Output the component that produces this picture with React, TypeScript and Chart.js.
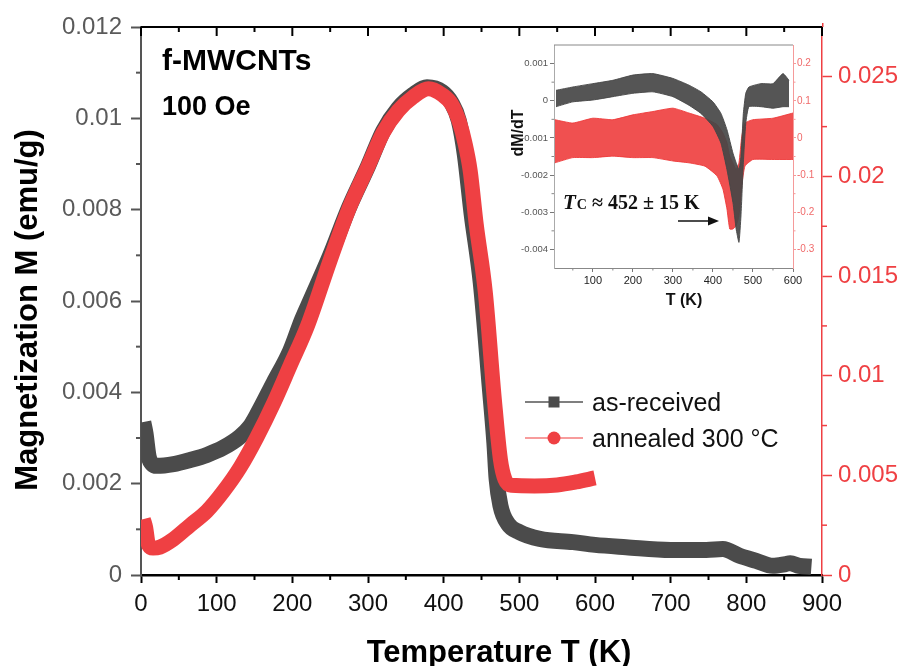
import React, { useEffect, useRef } from 'react';
import { Chart, registerables } from 'chart.js';
Chart.register(...registerables);

const FONT = "'Liberation Sans', Arial, Helvetica, sans-serif";
const SERIF = "'Liberation Serif', 'Times New Roman', serif";
const RED = '#ef4043';
const DARK = '#4b4b4b';

// ---------- main chart data ----------
const seriesLabels = ['as-received', 'annealed 300 °C'];
const asReceivedT = [3, 6, 10, 15, 21, 43, 65, 87, 109, 131, 144, 153, 175, 197, 213, 225, 250, 275, 300, 320, 340, 360, 378, 398, 410, 420, 428, 437, 449, 461, 467, 470, 475, 485, 500, 527, 571, 600, 641, 700, 747, 769, 791, 813, 835, 852, 858, 870, 886];
const asReceivedM = [0.00335, 0.0031, 0.0026, 0.00243, 0.00239, 0.00243, 0.00252, 0.00263, 0.00279, 0.00303, 0.00325, 0.0035, 0.0042, 0.0049, 0.0056, 0.00605, 0.007, 0.00805, 0.00895, 0.00972, 0.01022, 0.01052, 0.01068, 0.01058, 0.01035, 0.00995, 0.0092, 0.0079, 0.0064, 0.0041, 0.0029, 0.0021, 0.00152, 0.00112, 0.00094, 0.00079, 0.00072, 0.00066, 0.00061, 0.00055, 0.00055, 0.00057, 0.00042, 0.00031, 0.0002, 0.00024, 0.00026, 0.0002, 0.00018];
const annealedT = [3, 6, 10, 16, 25, 43, 65, 87, 109, 131, 153, 175, 197, 220, 250, 275, 300, 320, 340, 360, 380, 398, 411, 421, 428, 435, 443, 455, 467, 475, 481, 490, 520, 550, 575, 600];
const annealedM = [0.0028, 0.0024, 0.0015, 0.00135, 0.0014, 0.0018, 0.0025, 0.0032, 0.0042, 0.0054, 0.0069, 0.0086, 0.0105, 0.0125, 0.0158, 0.0184, 0.0205, 0.0222, 0.0233, 0.024, 0.0244, 0.0241, 0.0236, 0.0227, 0.0217, 0.0203, 0.0176, 0.0142, 0.0088, 0.0058, 0.0048, 0.0045, 0.00447, 0.00452, 0.00467, 0.00487];

const xTickValues = [0, 100, 200, 300, 400, 500, 600, 700, 800, 900];
const xTickLabels = ['0', '100', '200', '300', '400', '500', '600', '700', '800', '900'];
const xMinorTicks = [50, 150, 250, 350, 450, 550, 650, 750, 850];
const yTickValues = [0, 0.002, 0.004, 0.006, 0.008, 0.01, 0.012];
const yTickLabels = ['0', '0.002', '0.004', '0.006', '0.008', '0.01', '0.012'];
const yMinorTicks = [0.001, 0.003, 0.005, 0.007, 0.009, 0.011];
const y2TickValues = [0, 0.005, 0.01, 0.015, 0.02, 0.025];
const y2TickLabels = ['0', '0.005', '0.01', '0.015', '0.02', '0.025'];
const y2MinorTicks = [0.0025, 0.0075, 0.0125, 0.0175, 0.0225];

const sampleText = 'f-MWCNTs';
const fieldText = '100 Oe';
const xTitle = 'Temperature T (K)';
const yTitle = 'Magnetization M (emu/g)';

// ---------- inset (dM/dT) data: envelopes of the noisy bands ----------
const dBlackT = [8, 50, 100, 150, 200, 250, 300, 340, 370, 400, 420, 435, 450, 458, 465, 470, 476, 482, 490, 520, 550, 575, 590];
const dBlackHigh = [0.00028, 0.00037, 0.00046, 0.00055, 0.00069, 0.00073, 0.0006, 0.00042, 0.00024, -0.00003, -0.00034, -0.00078, -0.00141, -0.00167, -0.00185, -0.0015, -0.00034, 0.0002, 0.00037, 0.00046, 0.00046, 0.00073, 0.00055];
const dBlackLow = [-0.00016, -0.00003, 0.00002, 0.00011, 0.0002, 0.00024, 0.00011, -0.00012, -0.00034, -0.00069, -0.00114, -0.00185, -0.00274, -0.00345, -0.00381, -0.0031, -0.00167, -0.00061, -0.00016, -0.00016, -0.0002, -0.00016, -0.00016];
const dRedT = [5, 50, 100, 150, 200, 250, 300, 340, 380, 410, 425, 435, 442, 450, 458, 465, 472, 480, 500, 550, 600];
const dRedHigh = [0.049, 0.04, 0.053, 0.049, 0.062, 0.071, 0.08, 0.067, 0.053, 0.036, 0.013, -0.013, -0.049, -0.067, -0.085, -0.067, 0.004, 0.04, 0.049, 0.053, 0.067];
const dRedLow = [-0.067, -0.053, -0.053, -0.049, -0.053, -0.053, -0.062, -0.067, -0.076, -0.102, -0.138, -0.191, -0.245, -0.245, -0.236, -0.209, -0.129, -0.076, -0.058, -0.058, -0.058];

const insetXTicks = [100, 200, 300, 400, 500, 600];
const insetXLabels = ['100', '200', '300', '400', '500', '600'];
const insetXMinor = [50, 150, 250, 350, 450, 550];
const insetYTicks = [0.001, 0, -0.001, -0.002, -0.003, -0.004];
const insetYLabels = ['0.001', '0', '-0.001', '-0.002', '-0.003', '-0.004'];
const insetYMinor = [0.0005, -0.0005, -0.0015, -0.0025, -0.0035];
const insetY2Ticks = [0.2, 0.1, 0, -0.1, -0.2, -0.3];
const insetY2Labels = ['0.2', '0.1', '0', '-0.1', '-0.2', '-0.3'];
const insetY2Minor = [0.15, 0.05, -0.05, -0.15, -0.25];
const insetXTitle = 'T (K)';
const insetYTitle = 'dM/dT';
const tcSymbol = 'T';
const tcSub = 'C';
const tcValue = ' ≈ 452 ± 15 K';

const pts = (xs: number[], ys: number[]) => xs.map((x, i) => ({ x, y: ys[i] }));

function line(ctx: CanvasRenderingContext2D, x1: number, y1: number, x2: number, y2: number) {
  ctx.beginPath();
  ctx.moveTo(x1, y1);
  ctx.lineTo(x2, y2);
  ctx.stroke();
}

const mainDecor = {
  id: 'mainDecor',
  afterDraw(chart: any) {
    const { ctx, chartArea: a, scales } = chart;
    const sx = scales.x, sy = scales.y, sy2 = scales.y2;
    ctx.save();
    // top frame with inward ticks
    ctx.strokeStyle = '#000';
    ctx.lineWidth = 2;
    line(ctx, a.left, a.top, a.right, a.top);
    xTickValues.forEach((v) => { const p = sx.getPixelForValue(v); line(ctx, p, a.top, p, a.top + 9); });
    xMinorTicks.forEach((v) => { const p = sx.getPixelForValue(v); line(ctx, p, a.top, p, a.top + 5); });
    // bottom minor ticks
    xMinorTicks.forEach((v) => { const p = sx.getPixelForValue(v); line(ctx, p, a.bottom, p, a.bottom + 5); });
    // left minor
    ctx.strokeStyle = '#555';
    yMinorTicks.forEach((v) => { const p = sy.getPixelForValue(v); line(ctx, a.left, p, a.left - 5, p); });
    // right minor + extension of the red axis above the frame
    ctx.strokeStyle = RED;
    ctx.lineWidth = 1.5;
    y2MinorTicks.forEach((v) => { const p = sy2.getPixelForValue(v); line(ctx, a.right, p, a.right + 5, p); });
    line(ctx, a.right + 0.75, a.top - 4, a.right + 0.75, a.top);

    // texts
    ctx.fillStyle = '#000';
    ctx.textBaseline = 'alphabetic';
    ctx.textAlign = 'left';
    ctx.font = `bold 30px ${FONT}`;
    ctx.fillText(sampleText, 162, 70);
    ctx.font = `bold 27px ${FONT}`;
    ctx.fillText(fieldText, 162, 115);

    ctx.font = `bold 31px ${FONT}`;
    ctx.textAlign = 'center';
    ctx.fillText(xTitle, 499, 662);
    ctx.save();
    ctx.translate(37, 310);
    ctx.rotate(-Math.PI / 2);
    ctx.fillText(yTitle, 0, 0);
    ctx.restore();

    // legend
    ctx.textAlign = 'left';
    ctx.font = `25px ${FONT}`;
    ctx.lineWidth = 1.3;
    ctx.strokeStyle = '#555';
    line(ctx, 525, 402, 583, 402);
    ctx.fillStyle = DARK;
    ctx.fillRect(548.5, 396.5, 11, 11);
    ctx.fillStyle = '#111';
    ctx.fillText(seriesLabels[0], 592, 411);
    ctx.strokeStyle = '#f47b7b';
    line(ctx, 525, 438, 583, 438);
    ctx.fillStyle = RED;
    ctx.beginPath();
    ctx.arc(554, 438, 6.5, 0, Math.PI * 2);
    ctx.fill();
    ctx.fillStyle = '#111';
    ctx.fillText(seriesLabels[1], 592, 447);
    ctx.restore();
  },
};

const insetDecor = {
  id: 'insetDecor',
  afterDraw(chart: any) {
    const { ctx, chartArea: a, scales } = chart;
    const sx = scales.x, sy = scales.y, sy2 = scales.y2;
    ctx.save();
    ctx.strokeStyle = '#888';
    ctx.lineWidth = 1;
    line(ctx, a.left, a.top, a.right, a.top);
    insetXMinor.forEach((v) => { const p = sx.getPixelForValue(v); line(ctx, p, a.bottom, p, a.bottom + 2.5); });
    insetYMinor.forEach((v) => { const p = sy.getPixelForValue(v); line(ctx, a.left, p, a.left - 2.5, p); });
    ctx.strokeStyle = '#f59a9a';
    insetY2Minor.forEach((v) => { const p = sy2.getPixelForValue(v); line(ctx, a.right, p, a.right + 2.5, p); });

    ctx.fillStyle = '#111';
    ctx.font = `bold 16px ${FONT}`;
    ctx.textAlign = 'center';
    ctx.textBaseline = 'alphabetic';
    ctx.fillText(insetXTitle, 184, 270);
    ctx.save();
    ctx.translate(23, 98);
    ctx.rotate(-Math.PI / 2);
    ctx.fillText(insetYTitle, 0, 0);
    ctx.restore();

    // Tc annotation
    ctx.textAlign = 'left';
    let cx = 63;
    const by = 174;
    ctx.font = `italic bold 21px ${SERIF}`;
    ctx.fillText(tcSymbol, cx, by);
    cx += ctx.measureText(tcSymbol).width + 1;
    ctx.font = `bold 14px ${SERIF}`;
    ctx.fillText(tcSub, cx, by);
    cx += ctx.measureText(tcSub).width;
    ctx.font = `bold 20px ${SERIF}`;
    ctx.fillText(tcValue, cx, by);

    // arrow
    ctx.strokeStyle = '#111';
    ctx.lineWidth = 1.6;
    line(ctx, 178, 186, 211, 186);
    ctx.fillStyle = '#111';
    ctx.beginPath();
    ctx.moveTo(219, 186);
    ctx.lineTo(208, 181.5);
    ctx.lineTo(208, 190.5);
    ctx.closePath();
    ctx.fill();
    ctx.restore();
  },
};

function MainChart() {
  const ref = useRef<HTMLCanvasElement>(null);
  useEffect(() => {
    const chart = new Chart(ref.current as HTMLCanvasElement, {
      type: 'line',
      data: {
        datasets: [
          {
            label: seriesLabels[1],
            data: pts(annealedT, annealedM),
            yAxisID: 'y2',
            borderColor: RED,
            backgroundColor: RED,
            borderWidth: 15,
            pointRadius: 0,
            cubicInterpolationMode: 'monotone',
            borderJoinStyle: 'round',
            order: 0,
          },
          {
            label: seriesLabels[0],
            data: pts(asReceivedT, asReceivedM),
            yAxisID: 'y',
            borderColor: DARK,
            backgroundColor: DARK,
            borderWidth: 16,
            pointRadius: 0,
            cubicInterpolationMode: 'monotone',
            borderJoinStyle: 'round',
            order: 1,
          },
        ],
      } as any,
      options: {
        responsive: false,
        animation: false,
        events: [],
        layout: { padding: { top: 27, left: 0, right: 0, bottom: 0 } },
        plugins: { legend: { display: false }, tooltip: { enabled: false } },
        scales: {
          x: {
            type: 'linear',
            position: 'bottom',
            min: 0,
            max: 900,
            afterBuildTicks: (s: any) => { s.ticks = xTickValues.map((v) => ({ value: v })); },
            afterFit: (s: any) => { s.height = 91; },
            ticks: {
              callback: (_v: any, i: number) => xTickLabels[i],
              font: { family: FONT, size: 24 },
              color: '#111',
              padding: 7,
              maxRotation: 0,
              autoSkip: false,
            },
            grid: { drawOnChartArea: false, drawTicks: true, tickLength: 8, tickWidth: 2, color: '#000' },
            border: { display: true, color: '#000', width: 2.5 },
          },
          y: {
            type: 'linear',
            position: 'left',
            min: 0,
            max: 0.012,
            afterBuildTicks: (s: any) => { s.ticks = yTickValues.map((v) => ({ value: v })); },
            afterFit: (s: any) => { s.width = 141; },
            ticks: {
              callback: (_v: any, i: number) => yTickLabels[i],
              font: { family: FONT, size: 24 },
              color: '#5a5a5a',
              padding: 9,
              autoSkip: false,
            },
            grid: { drawOnChartArea: false, drawTicks: true, tickLength: 10, tickWidth: 2, color: '#555' },
            border: { display: true, color: '#555', width: 2 },
          },
          y2: {
            type: 'linear',
            position: 'right',
            min: 0,
            max: 0.0275,
            afterBuildTicks: (s: any) => { s.ticks = y2TickValues.map((v) => ({ value: v })); },
            afterFit: (s: any) => { s.width = 83; },
            ticks: {
              callback: (_v: any, i: number) => y2TickLabels[i],
              font: { family: FONT, size: 24 },
              color: RED,
              padding: 6,
              autoSkip: false,
            },
            grid: { drawOnChartArea: false, drawTicks: true, tickLength: 10, tickWidth: 1.5, color: RED },
            border: { display: true, color: RED, width: 1.5 },
          },
        },
      } as any,
      plugins: [mainDecor],
    });
    return () => chart.destroy();
  }, []);
  return <canvas ref={ref} width={905} height={666} style={{ position: 'absolute', left: 0, top: 0 }} />;
}

function InsetChart() {
  const ref = useRef<HTMLCanvasElement>(null);
  useEffect(() => {
    const band = (xs: number[], ys: number[], color: string, axis: string, fill: any, order: number) => ({
      data: pts(xs, ys),
      yAxisID: axis,
      borderColor: color,
      backgroundColor: color,
      borderWidth: 1,
      pointRadius: 0,
      tension: 0.15,
      fill,
      order,
    });
    const chart = new Chart(ref.current as HTMLCanvasElement, {
      type: 'line',
      data: {
        datasets: [
          band(dBlackT, dBlackHigh, 'rgba(70,70,70,0.92)', 'y', '+1', 0),
          band(dBlackT, dBlackLow, 'rgba(70,70,70,0.92)', 'y', false, 0),
          band(dRedT, dRedHigh, 'rgba(238,56,56,0.88)', 'y2', '+1', 1),
          band(dRedT, dRedLow, 'rgba(238,56,56,0.88)', 'y2', false, 1),
        ],
      } as any,
      options: {
        responsive: false,
        animation: false,
        events: [],
        layout: { padding: { top: 10, left: 0, right: 0, bottom: 0 } },
        plugins: { legend: { display: false }, tooltip: { enabled: false } },
        scales: {
          x: {
            type: 'linear',
            min: 3,
            max: 600,
            afterBuildTicks: (s: any) => { s.ticks = insetXTicks.map((v) => ({ value: v })); },
            afterFit: (s: any) => { s.height = 57; },
            ticks: {
              callback: (_v: any, i: number) => insetXLabels[i],
              font: { family: FONT, size: 11 },
              color: '#222',
              padding: 2,
              maxRotation: 0,
              autoSkip: false,
            },
            grid: { drawOnChartArea: false, tickLength: 4, color: '#777' },
            border: { display: true, color: '#888', width: 1 },
          },
          y: {
            type: 'linear',
            position: 'left',
            min: -0.0045,
            max: 0.0015,
            afterBuildTicks: (s: any) => { s.ticks = insetYTicks.map((v) => ({ value: v })); },
            afterFit: (s: any) => { s.width = 54; },
            ticks: {
              callback: (_v: any, i: number) => insetYLabels[i],
              font: { family: FONT, size: 9.5 },
              color: '#555',
              padding: 2,
              autoSkip: false,
            },
            grid: { drawOnChartArea: false, tickLength: 4, color: '#777' },
            border: { display: true, color: '#aaa', width: 1 },
          },
          y2: {
            type: 'linear',
            position: 'right',
            min: -0.35,
            max: 0.25,
            afterBuildTicks: (s: any) => { s.ticks = insetY2Ticks.map((v) => ({ value: v })); },
            afterFit: (s: any) => { s.width = 32; },
            ticks: {
              callback: (_v: any, i: number) => insetY2Labels[i],
              font: { family: FONT, size: 10 },
              color: '#f06a6a',
              padding: 1,
              autoSkip: false,
            },
            grid: { drawOnChartArea: false, tickLength: 3, color: '#f59a9a' },
            border: { display: true, color: '#f59a9a', width: 1 },
          },
        },
      } as any,
      plugins: [insetDecor],
    });
    return () => chart.destroy();
  }, []);
  return <canvas ref={ref} width={325} height={290} style={{ position: 'absolute', left: 500, top: 35 }} />;
}

export default function App() {
  return (
    <div style={{ position: 'absolute', left: 0, top: 0, width: 905, height: 666, background: '#fff', overflow: 'hidden' }}>
      <MainChart />
      <InsetChart />
    </div>
  );
}
